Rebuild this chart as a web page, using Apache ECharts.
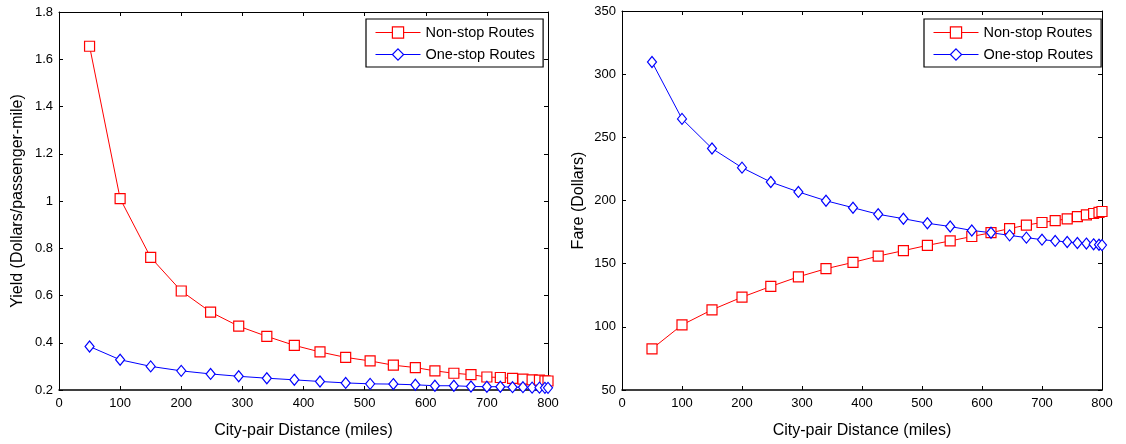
<!DOCTYPE html>
<html>
<head>
<meta charset="utf-8">
<script src="https://cdn.jsdelivr.net/npm/echarts@6/dist/echarts.min.js"></script>
<style>html,body{margin:0;padding:0;background:#fff;}#c{width:1126px;height:444px;}</style>
</head>
<body>
<div id="c"></div>
<script>
const distance = [50,100,150,200,248,294,340,385,427,469,509,547,583,615,646,674,700,722,742,759,774,786,795,800];
const yieldNonstop = [1.655,1.010,0.761,0.619,0.530,0.470,0.427,0.389,0.361,0.338,0.323,0.305,0.295,0.281,0.271,0.265,0.255,0.253,0.249,0.246,0.243,0.242,0.239,0.238];
const yieldOnestop = [0.384,0.328,0.300,0.281,0.268,0.258,0.250,0.243,0.236,0.230,0.226,0.225,0.222,0.218,0.218,0.215,0.214,0.214,0.212,0.212,0.210,0.210,0.209,0.209];
const fareNonstop = [82.6,101.5,113.5,123.5,132,139.6,146,151,156,160.3,164.5,168,171.5,174.5,177.8,180.5,182.6,184,185.5,187.3,188.6,189.7,190.6,191.3];
const fareOnestop = [309.6,264.6,241.2,226,214.6,206.8,199.8,194.3,189.1,185.6,182,179.4,176.3,174.5,172.4,170.6,169,168,167.2,166.4,165.9,165.3,165,164.7];
const seriesNames = ['Non-stop Routes','One-stop Routes'];

const pair = (xs, ys) => xs.map((x, i) => [x, ys[i]]);
const FONT = 'Liberation Sans, Arial, sans-serif';
const diamondPath = 'path://M0,-6L5,0L0,6L-5,0Z';

function xAx(grid, pos, labels) {
  return {
    type: 'value', gridIndex: grid, position: pos, min: 0, max: 800, interval: 100,
    name: labels ? 'City-pair Distance (miles)' : '', nameLocation: 'middle', nameGap: 33,
    nameTextStyle: {fontFamily: FONT, fontSize: 16, color: '#000'},
    axisLine: {show: true, onZero: false, lineStyle: {color: '#000', width: pos === 'bottom' ? 1.5 : 1}},
    axisTick: {show: true, inside: true, length: 4, lineStyle: {color: '#000'}},
    axisLabel: {show: labels, color: '#000', fontFamily: FONT, fontSize: 13, margin: 7},
    splitLine: {show: false}
  };
}
function yAx(grid, pos, labels, min, max, interval, name, gap) {
  return {
    type: 'value', gridIndex: grid, position: pos, min: min, max: max, interval: interval,
    name: labels ? name : '', nameLocation: 'middle', nameGap: gap,
    nameTextStyle: {fontFamily: FONT, fontSize: 16, color: '#000'},
    axisLine: {show: true, onZero: false, lineStyle: {color: '#000', width: 1}},
    axisTick: {show: true, inside: true, length: 4, lineStyle: {color: '#000'}},
    axisLabel: {show: labels, color: '#000', fontFamily: FONT, fontSize: 13, margin: 6,
      formatter: v => String(+v.toFixed(2))},
    splitLine: {show: false}
  };
}
function ser(name, data, xi, yi, color, symbol, size) {
  return {
    name: name, type: 'line', xAxisIndex: xi, yAxisIndex: yi, data: data,
    symbol: symbol, symbolSize: size, showSymbol: true,
    lineStyle: {color: color, width: 1},
    itemStyle: {color: '#fff', borderColor: color, borderWidth: 1.2},
    emphasis: {disabled: true}, animation: false
  };
}
function leg(left, top) {
  return {
    data: seriesNames.map(n => ({name: n})),
    left: left, top: top, orient: 'vertical', itemGap: 7, itemWidth: 45, itemHeight: 14,
    padding: [6, 8, 5, 9], borderColor: '#000', borderWidth: 1.2, backgroundColor: '#fff',
    lineStyle: {width: 1},
    itemStyle: {borderWidth: 1.2},
    textStyle: {fontFamily: FONT, fontSize: 14.5, color: '#000'},
    selectedMode: false
  };
}

const chart = echarts.init(document.getElementById('c'), null, {renderer: 'canvas'});
chart.setOption({
  animation: false,
  backgroundColor: '#fff',
  grid: [
    {left: 59, top: 12, width: 489, height: 383},
    {left: 622, top: 11, width: 480, height: 384}
  ],
  xAxis: [xAx(0, 'bottom', true), xAx(0, 'top', false), xAx(1, 'bottom', true), xAx(1, 'top', false)],
  yAxis: [
    yAx(0, 'left', true, 0.2, 1.8, 0.2, 'Yield (Dollars/passenger-mile)', 33),
    yAx(0, 'right', false, 0.2, 1.8, 0.2, '', 0),
    yAx(1, 'left', true, 50, 350, 50, 'Fare (Dollars)', 35),
    yAx(1, 'right', false, 50, 350, 50, '', 0)
  ],
  legend: [leg(366, 19), leg(924, 19)],
  series: [
    ser(seriesNames[0], pair(distance, yieldNonstop), 0, 0, '#ff0000', 'rect', 10),
    ser(seriesNames[1], pair(distance, yieldOnestop), 0, 0, '#0000ff', diamondPath, [9, 11]),
    ser(seriesNames[0], pair(distance, fareNonstop), 2, 2, '#ff0000', 'rect', 10),
    ser(seriesNames[1], pair(distance, fareOnestop), 2, 2, '#0000ff', diamondPath, [9, 11])
  ]
});
</script>
</body>
</html>
